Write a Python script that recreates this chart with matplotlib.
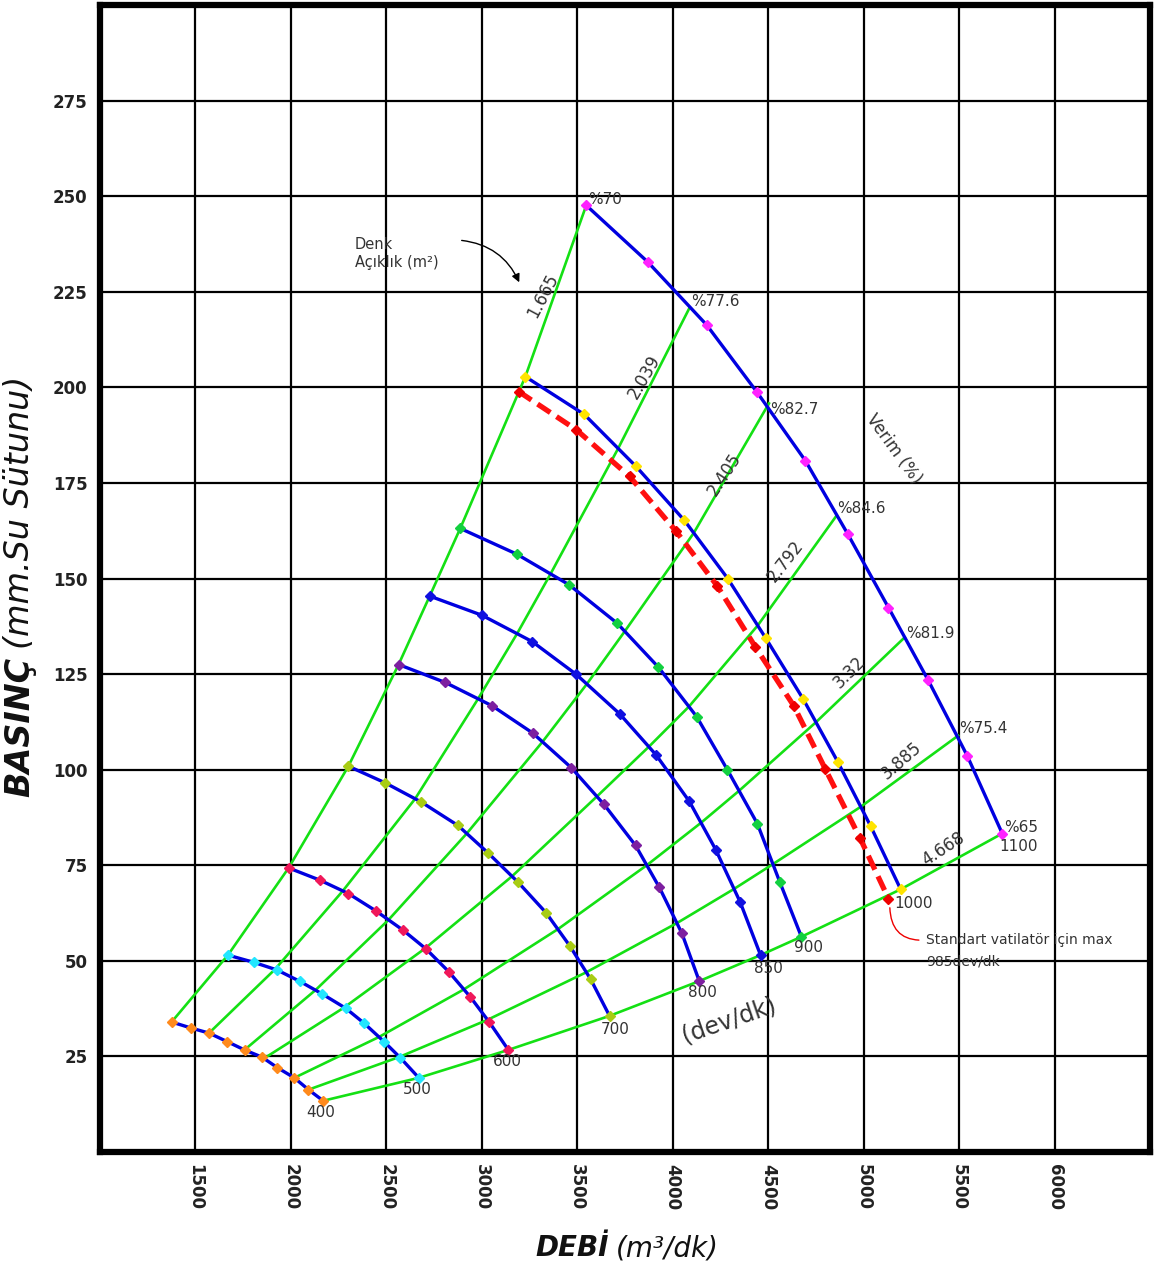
import matplotlib
matplotlib.use("Agg")
import matplotlib.pyplot as plt

# ==========================================
#  DATA
# ==========================================
# fan curves: flow (m3/dk) and pressure (mm.Su) at each marker
q_400 = [1375, 1479, 1571, 1665, 1757, 1849, 1928, 2018, 2092, 2169]
p_400 = [34.0, 32.4, 31.1, 28.9, 26.7, 24.8, 22.1, 19.4, 16.3, 13.4]
q_500 = [1670, 1806, 1928, 2048, 2165, 2287, 2383, 2487, 2574, 2670]
p_500 = [51.5, 49.6, 47.6, 44.6, 41.3, 37.6, 33.7, 28.9, 24.6, 19.4]
q_600 = [1988, 2152, 2301, 2444, 2588, 2708, 2826, 2939, 3040, 3139]
p_600 = [74.3, 71.1, 67.6, 63.1, 58.0, 53.1, 47.2, 40.6, 33.9, 26.7]
q_700 = [2301, 2492, 2684, 2875, 3031, 3191, 3336, 3461, 3570, 3669]
p_700 = [100.9, 96.6, 91.5, 85.4, 78.3, 70.5, 62.6, 53.9, 45.2, 35.6]
q_800 = [2564, 2809, 3054, 3266, 3469, 3640, 3805, 3930, 4048, 4139]
p_800 = [127.5, 122.8, 116.7, 109.6, 100.5, 90.9, 80.2, 69.2, 57.2, 44.7]
q_850 = [2727, 3000, 3264, 3495, 3722, 3912, 4087, 4225, 4353, 4460]
p_850 = [145.4, 140.4, 133.5, 124.9, 114.6, 103.9, 91.7, 79.1, 65.4, 51.5]
q_900 = [2887, 3182, 3456, 3709, 3925, 4125, 4286, 4443, 4561, 4674]
p_900 = [163.1, 156.4, 148.4, 138.3, 126.8, 113.9, 100.0, 85.9, 70.6, 56.3]
q_985 = [3193, 3495, 3774, 4017, 4234, 4433, 4634, 4799, 4982, 5130]
p_985 = [198.9, 188.9, 176.7, 162.4, 148.0, 132.1, 116.7, 100.2, 82.0, 66.3]
q_1000 = [3228, 3537, 3808, 4061, 4288, 4486, 4683, 4864, 5037, 5194]
p_1000 = [202.8, 192.9, 179.3, 165.2, 150.0, 134.5, 118.5, 102.1, 85.2, 68.7]
q_1100 = [3547, 3869, 4178, 4439, 4695, 4916, 5130, 5338, 5542, 5726]
p_1100 = [247.6, 232.8, 216.3, 198.9, 180.8, 161.7, 142.4, 123.4, 103.7, 83.3]

# equivalent orifice lines (Denk Açıklık), one point per rpm curve 400..1100
q_a1665 = [1375, 1670, 1988, 2301, 2564, 2727, 2887, 3228, 3547]
p_a1665 = [34.0, 51.5, 74.3, 100.9, 127.5, 145.4, 163.1, 202.8, 247.6]
q_a2039 = [1571, 1917, 2272, 2651, 2980, 3185, 3360, 3714, 4086]
p_a2039 = [31.1, 47.8, 68.3, 92.4, 118.5, 135.6, 151.2, 184.0, 220.6]
q_a2405 = [1757, 2130, 2511, 2921, 3318, 3550, 3749, 4110, 4504]
p_a2405 = [26.7, 42.4, 60.7, 83.3, 107.3, 122.4, 136.2, 161.9, 195.8]
q_a2792 = [1860, 2279, 2704, 3158, 3603, 3875, 4085, 4445, 4856]
p_a2792 = [24.5, 37.8, 53.3, 72.1, 93.0, 106.0, 116.5, 137.7, 166.3]
q_a3320 = [2018, 2462, 2905, 3399, 3864, 4148, 4348, 4750, 5215]
p_a3320 = [19.4, 30.1, 42.5, 58.3, 75.0, 86.1, 94.5, 112.4, 134.6]
q_a3885 = [2092, 2570, 3031, 3547, 4023, 4321, 4525, 4985, 5495]
p_a3885 = [16.3, 24.9, 34.6, 47.0, 59.9, 68.8, 75.3, 90.3, 108.9]
q_a4668 = [2169, 2670, 3139, 3669, 4139, 4460, 4674, 5194, 5726]
p_a4668 = [13.4, 19.4, 26.7, 35.6, 44.7, 51.5, 56.3, 68.7, 83.3]

opening_labels = ["1.665", "2.039", "2.405", "2.792", "3.32", "3.885", "4.668"]
efficiency_labels = ["%70", "%77.6", "%82.7", "%84.6", "%81.9", "%75.4", "%65"]
rpm_labels = ["400", "500", "600", "700", "800", "850", "900", "1000", "1100"]

x_ticks = [1500, 2000, 2500, 3000, 3500, 4000, 4500, 5000, 5500, 6000]
y_ticks = [25, 50, 75, 100, 125, 150, 175, 200, 225, 250, 275]

# ==========================================
#  FIGURE
# ==========================================
fig = plt.figure(figsize=(11.57, 12.72), dpi=100)
ax = fig.add_axes([100 / 1157, 1 - 1152 / 1272, 1050 / 1157, 1147 / 1272])
ax.set_xlim(1000, 6500)
ax.set_ylim(0, 300)

ax.set_xticks(x_ticks)
ax.set_yticks(y_ticks)
ax.set_xticklabels([str(v) for v in x_ticks], rotation=270,
                   fontsize=12, fontweight="bold", color="#222222")
ax.set_yticklabels([str(v) for v in y_ticks],
                   fontsize=12, fontweight="bold", color="#222222")
ax.tick_params(axis="x", length=0, pad=9)
ax.tick_params(axis="y", length=0, pad=9)
ax.grid(True, color="black", linewidth=1.6)
ax.set_axisbelow(True)
for sp in ax.spines.values():
    sp.set_linewidth(4.5)
    sp.set_color("black")

# green orifice lines
green = "#14e014"
openings = [(q_a1665, p_a1665), (q_a2039, p_a2039), (q_a2405, p_a2405),
            (q_a2792, p_a2792), (q_a3320, p_a3320), (q_a3885, p_a3885),
            (q_a4668, p_a4668)]
for q, p in openings:
    ax.plot(q, p, color=green, lw=1.9, zorder=2)

# rpm curves
blue = "#0000e0"
curves = [
    (q_400, p_400, "#ff8a1c"),
    (q_500, p_500, "#22e6ff"),
    (q_600, p_600, "#f0185a"),
    (q_700, p_700, "#a8cc14"),
    (q_800, p_800, "#7d1fa0"),
    (q_850, p_850, "#1010e0"),
    (q_900, p_900, "#12d040"),
    (q_1000, p_1000, "#ffe400"),
    (q_1100, p_1100, "#ff22ff"),
]
for q, p, mc in curves:
    ax.plot(q, p, color=blue, lw=2.4, zorder=3)
    ax.plot(q, p, linestyle="none", marker="D", ms=5.5, color=mc,
            markeredgecolor=mc, zorder=5)

# 985 rpm limit curve (red dashed)
ax.plot(q_985, p_985, color="#ff1010", lw=3.8, dashes=(2.9, 1.4), zorder=4)
ax.plot(q_985, p_985, linestyle="none", marker="D", ms=5, color="#ee0000", zorder=4)

# ==========================================
#  TEXT
# ==========================================
txt = "#333333"

# efficiency labels at the top ends of the orifice lines
eff_pos = [(3556, 249.0), (4094, 222.4), (4511, 194.2), (4860, 168.4),
           (5225, 135.5), (5501, 110.7), (5736, 84.9)]
for (x, y), s in zip(eff_pos, efficiency_labels):
    ax.text(x, y, s, fontsize=11, color=txt, ha="left", va="center", zorder=6)

# rpm labels at curve ends
rpm_pos = [(2081, 10.3), (2587, 16.3), (3056, 23.6), (3624, 32.0), (4078, 41.6),
           (4428, 48.1), (4636, 53.4), (5163, 65.1), (5710, 79.9)]
for (x, y), s in zip(rpm_pos, rpm_labels):
    ax.text(x, y, s, fontsize=11, color=txt, ha="left", va="center", zorder=6)

# orifice values along the lines
open_pos = [(3322, 223.9, 62), (3852, 202.8, 60), (4269, 177.2, 57),
            (4590, 154.5, 52), (4925, 125.5, 45), (5195, 102.3, 41),
            (5420, 79.3, 33)]
for (x, y, r), s in zip(open_pos, opening_labels):
    ax.text(x, y, s, fontsize=12, color=txt, ha="center", va="center",
            rotation=r, rotation_mode="anchor", zorder=6)

ax.text(4297, 34.6, "(dev/dk)", fontsize=17, color=txt, rotation=19,
        ha="center", va="center", rotation_mode="anchor")
ax.text(5157, 184.0, "Verim (%)", fontsize=12, color=txt, rotation=-54,
        ha="center", va="center", rotation_mode="anchor")

ax.text(2336, 235.0, "Denk\nAçıklık (m²)", fontsize=10.5, color=txt,
        ha="left", va="center", linespacing=1.3)
ax.annotate("", xy=(3202, 226.8), xytext=(2880, 238.5),
            arrowprops=dict(arrowstyle="-|>", color="black", lw=1.0,
                            mutation_scale=12,
                            connectionstyle="arc3,rad=-0.3"))

ax.annotate("", xy=(5137, 64.6), xytext=(5304, 55.4),
            arrowprops=dict(arrowstyle="-", color="#ee0000", lw=1.0,
                            connectionstyle="angle3,angleA=0,angleB=90"))
ax.text(5325, 55.4, "Standart vatilatör için max", fontsize=10, color=txt,
        ha="left", va="center")
ax.text(5325, 49.8, "985dev/dk", fontsize=10, color=txt, ha="left", va="center")

# axis titles (bold italic word + italic unit), second part placed after the first
W, H = 1157, 1272
t1 = fig.text(535 / W, 1 - 1248 / H, "DEBİ", fontsize=20, fontweight="bold",
              style="italic", ha="left", va="center", color="#111111")
t2 = fig.text(20 / W, 1 - 797 / H, "BASINÇ", fontsize=24, fontweight="bold",
              style="italic", rotation=90, ha="center", va="bottom", color="#111111")
fig.canvas.draw()
b1 = t1.get_window_extent()
b2 = t2.get_window_extent()
fig.text((b1.x1 + 7) / W, 1 - 1248 / H, "(m³/dk)", fontsize=20, style="italic",
         ha="left", va="center", color="#111111")
fig.text(20 / W, (b2.y1 + 8) / H, "(mm.Su Sütunu)", fontsize=24, style="italic",
         rotation=90, ha="center", va="bottom", color="#111111")

fig.savefig("out.png", dpi=100)
